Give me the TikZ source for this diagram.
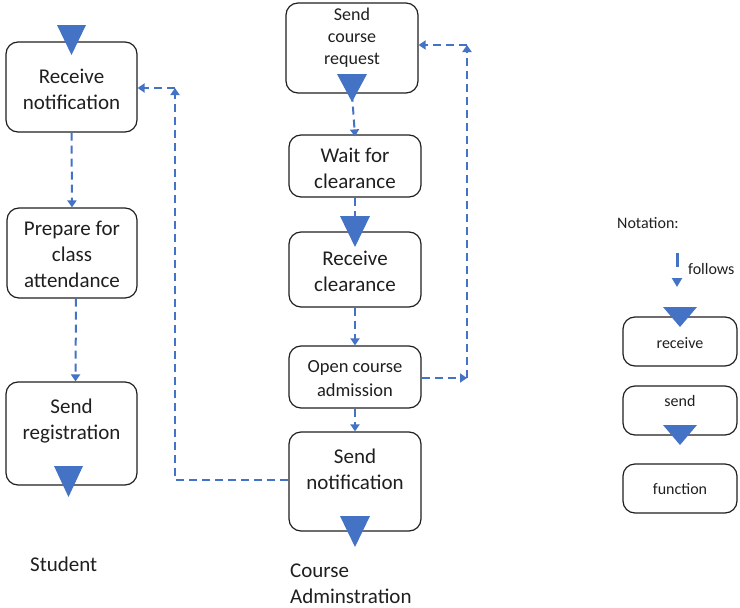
\documentclass[tikz,border=0pt]{standalone}
\usepackage{fontspec}
\setmainfont{Carlito}
\usetikzlibrary{arrows.meta}
\definecolor{acc}{HTML}{4472C4}
\definecolor{ink}{HTML}{1F1F1F}
\begin{document}
\begin{tikzpicture}[x=1pt,y=-1pt,
  box/.style={draw=ink, line width=1.2pt, rounded corners=12pt, inner sep=0pt},
  txt/.style={align=center, text=ink, inner sep=0pt},
  big/.style={font=\fontsize{21}{26}\selectfont},
  mid/.style={font=\fontsize{18}{22}\selectfont},
  opn/.style={font=\fontsize{18.5}{24}\selectfont},
  sml/.style={font=\fontsize{16}{19}\selectfont},
  flow/.style={draw=acc, line width=2pt, dash pattern=on 8pt off 5pt,
    -{Triangle[width=9pt,length=7pt]}},
  tri/.style={fill=acc}
]
\useasboundingbox (0,0) rectangle (740,608);

% ---- Student lane ----
\node[box, minimum width=131pt, minimum height=90pt]  (rnot) at (71.5,87) {};
\node[box, minimum width=130pt, minimum height=90pt]  (prep) at (72,253) {};
\node[box, minimum width=131pt, minimum height=103pt] (sreg) at (71.5,433.5) {};
\node[txt, big] (trnot) at (71.5,89) {Receive\\notification};
\node[txt, big] (tprep) at (72,254) {Prepare for\\class\\attendance};
\node[txt, big] (tsreg) at (71.5,421) {Send\\registration};

% ---- Course administration lane ----
\node[box, minimum width=132pt, minimum height=90pt]  (scr)  at (352,48) {};
\node[box, minimum width=132pt, minimum height=62pt]  (wait) at (355,166) {};
\node[box, minimum width=132pt, minimum height=75pt]  (rcl)  at (355,269.5) {};
\node[box, minimum width=132pt, minimum height=62pt]  (open) at (355,377) {};
\node[box, minimum width=132pt, minimum height=99pt]  (snot) at (355,481.5) {};
\node[txt, mid] (tscr)  at (352,38) {Send\\course\\request};
\node[txt, big] (twait) at (355,168) {Wait for\\clearance};
\node[txt, big] (trcl)  at (355,271) {Receive\\clearance};
\node[txt, opn] (topen) at (355,379) {Open course\\admission};
\node[txt, big] (tsnot) at (355,469) {Send\\notification};

% ---- lane captions ----
\node[txt, big, anchor=west] (cstu) at (30,564) {Student};
\node[txt, big, anchor=west, align=left] (cadm) at (290,584) {Course\\Adminstration};

% ---- flow connectors ----
\draw[flow] (rnot.south) -- (prep.north);
\draw[flow] ([xshift=4pt]prep.south) -- ([xshift=4pt]sreg.north);
\draw[flow] (scr.south) -- ([yshift=-2pt]wait.north);
\draw[flow] (wait.south) -- (rcl.north);
\draw[flow] (rcl.south) -- (open.north);
\draw[flow] (open.south) -- (snot.north);

\coordinate (ra) at (467,378);
\coordinate (rb) at (467,45);
\draw[flow] (open.east |- ra) -- (ra);
\draw[flow] (ra) -- (rb);
\draw[flow] (rb) -- (scr.east |- rb);

\coordinate (la) at (175,480);
\coordinate (lb) at (175,88);
\draw[flow] (snot.west |- la) -- (la) -- (lb);
\draw[flow] (lb) -- (rnot.east |- lb);

% ---- receive / send markers ----
\fill[tri] (57,25) -- (86,25) -- (71.5,55) -- cycle;
\fill[tri] (54,466) -- (83,466) -- (68.5,497) -- cycle;
\fill[tri] (337,74) -- (367,74) -- (352,102) -- cycle;
\fill[tri] (340,216) -- (370,216) -- (355,247) -- cycle;
\fill[tri] (340,516) -- (370,516) -- (355,547) -- cycle;

% ---- notation ----
\node[txt, sml, anchor=west] (nhead) at (617,223) {Notation:};
\coordinate (fa) at (677,253);
\coordinate (fb) at (677,287);
\draw[draw=acc, line width=3pt, dash pattern=on 14pt off 20pt,
  -{Triangle[width=10pt,length=9pt]}] (fa) -- (fb);
\node[txt, sml, anchor=west] (nfol) at (688,269) {follows};

\node[box, minimum width=114pt, minimum height=49pt] (nrec) at (680,341.5) {};
\node[txt, sml] (tnrec) at (680,343) {receive};
\fill[tri] (663,307) -- (697,307) -- (680,327) -- cycle;

\node[box, minimum width=114pt, minimum height=49pt] (nsnd) at (680,410.5) {};
\node[txt, sml] (tnsnd) at (680,401) {send};
\fill[tri] (663,425) -- (697,425) -- (680,445) -- cycle;

\node[box, minimum width=114pt, minimum height=49pt] (nfun) at (680,488.5) {};
\node[txt, sml] (tnfun) at (680,489) {function};
\end{tikzpicture}
\end{document}
